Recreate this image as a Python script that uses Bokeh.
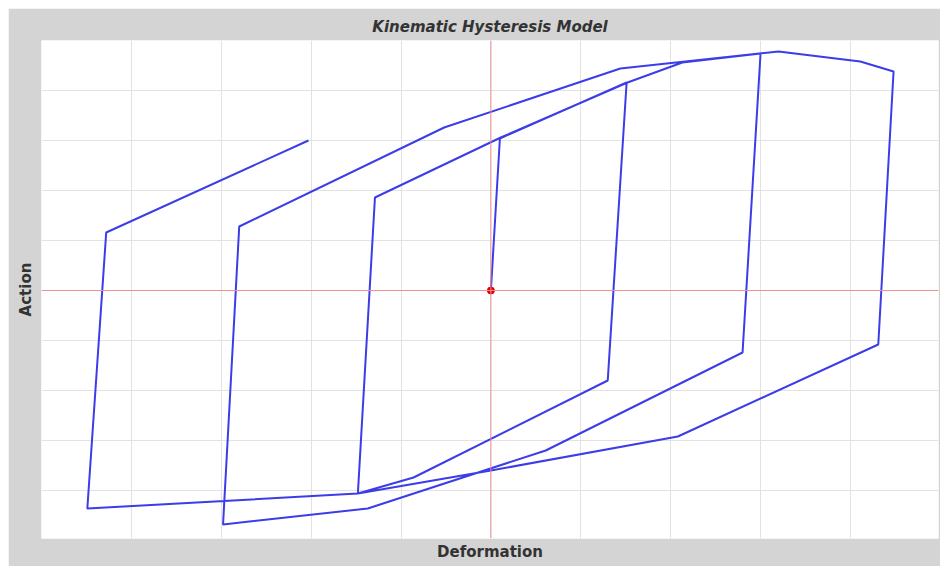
from bokeh.plotting import figure
from bokeh.models import Span, FixedTicker, Range1d, Title
from bokeh.embed import file_html
from bokeh.resources import INLINE

# Hysteresis path (deformation, action)
deformation = [0.0, 0.10, 1.51, 1.30, -0.86, -1.48, -1.29, 0.11, 1.52, 2.13, 3.00,
               2.80, 0.61, -1.37, -2.98, -2.80, -0.52, 1.44, 3.20, 4.11, 4.48,
               4.31, 2.08, 0.0, -1.48, -4.49, -4.28, -2.03]
action = [0.0, 3.04, 4.16, -1.80, -3.74, -4.06, 1.86, 3.06, 4.16, 4.56, 4.74,
          -1.24, -3.20, -4.36, -4.68, 1.28, 3.26, 4.44, 4.78, 4.58, 4.38,
          -1.08, -2.92, -3.60, -4.06, -4.36, 1.16, 3.00]
grid_ticks = [-5, -4, -3, -2, -1, 0, 1, 2, 3, 4, 5]

BG = "#d4d4d4"
FONT = "DejaVu Sans"

p = figure(width=932, height=558, output_backend="svg", toolbar_location=None,
           x_range=Range1d(-5, 4.98), y_range=Range1d(-4.96, 5),
           min_border_left=32, min_border_right=2, min_border_top=32, min_border_bottom=28,
           background_fill_color="white", border_fill_color=BG,
           title="Kinematic Hysteresis Model")
p.margin = (8, 0, 0, 8)
p.outline_line_color = None

p.title.align = "center"
p.title.text_font = FONT
p.title.text_font_style = "bold italic"
p.title.text_font_size = "15px"
p.title.text_color = "#333333"

p.xaxis.visible = False
p.yaxis.visible = False
p.xgrid.ticker = FixedTicker(ticks=grid_ticks)
p.ygrid.ticker = FixedTicker(ticks=grid_ticks)
p.grid.grid_line_color = "#e2e2e2"
p.grid.grid_line_width = 1

xlab = Title(text="Deformation", align="center", text_font=FONT, text_font_style="bold",
             text_font_size="15px", text_color="#333333", standoff=4)
ylab = Title(text="Action", align="center", text_font=FONT, text_font_style="bold",
             text_font_size="15px", text_color="#333333", standoff=13)
p.add_layout(xlab, "below")
p.add_layout(ylab, "left")

p.add_layout(Span(location=0, dimension="width", line_color="#f09090", line_width=1))
p.add_layout(Span(location=0, dimension="height", line_color="#f09090", line_width=1))

p.line(deformation, action, line_color="#3c3ce8", line_width=2)
p.scatter([deformation[0]], [action[0]], size=7, fill_color="#e00000", line_color="#e00000")

open("out.html", "w").write(file_html(p, INLINE))
